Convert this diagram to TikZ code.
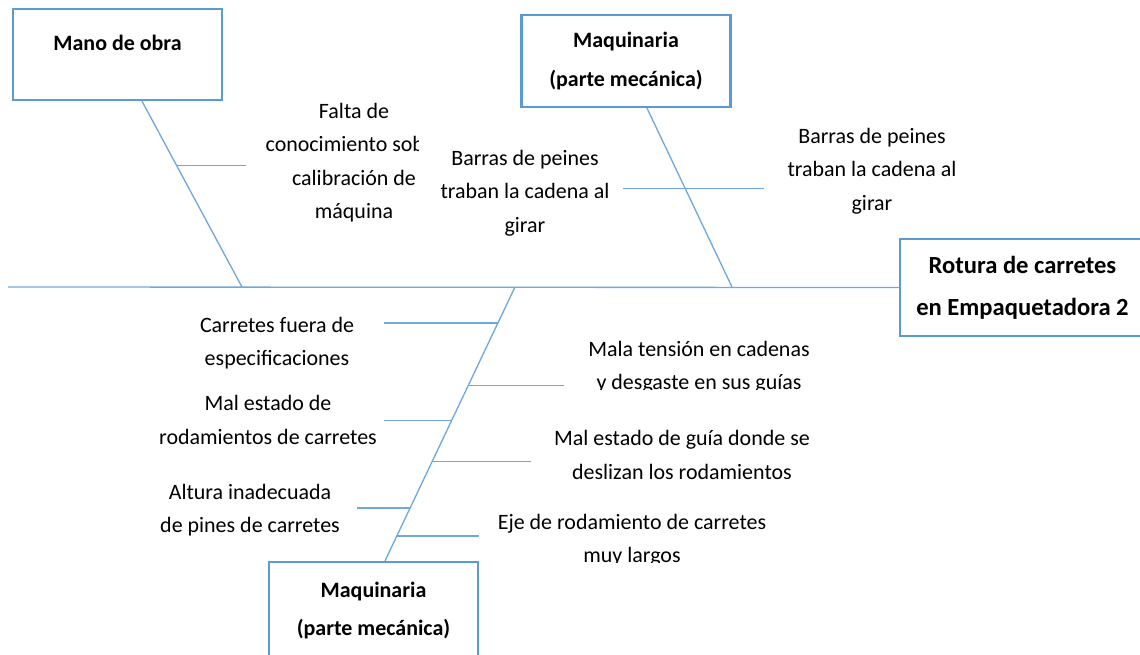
\documentclass[tikz,border=0pt]{standalone}
\usepackage{fontspec}
\setmainfont{Carlito}
\definecolor{azul}{HTML}{5B9BD5}
\definecolor{celeste}{HTML}{6FA8DC}

\begin{document}
\begin{tikzpicture}[x=0.02cm, y=-0.02cm, font=\fontsize{12.5}{19}\selectfont,
  caja/.style={draw=azul, line width=1.3pt, fill=white, align=center, minimum width=4.18cm,
    font=\fontsize{12.5}{22}\selectfont\bfseries},
  hueso/.style={draw=celeste, line width=0.75pt},
  causa/.style={align=center, inner sep=0pt}]
  \clip (0,0) rectangle (1140,654);
  % categorias y efecto
  \node[caja, minimum height=1.82cm, text height=9pt, text depth=14pt] (mano) at (117.5,54.5) {Mano de obra};
  \node[caja, minimum height=1.84cm] (maq1) at (626,61) {Maquinaria\\(parte mecánica)};
  \node[caja, minimum height=1.94cm] (maq2) at (373.5,610.5) {Maquinaria\\(parte mecánica)};
  \node[caja, minimum width=4.9cm, minimum height=1.94cm, font=\fontsize{14}{23.8}\selectfont\bfseries] (efecto) at (1022.5,287.5) {Rotura de carretes\\en Empaquetadora 2};

  % espina
  \coordinate (cola) at (8,287);
  \coordinate (c1) at (242,287);
  \coordinate (c2) at (732,287);
  \coordinate (c3) at (515,287);
  \draw[hueso] (cola) -- (efecto.west);
  \draw[hueso] ([xshift=0.49cm]mano.south) -- (c1) coordinate[pos=0.348] (m1);
  \draw[hueso] ([xshift=0.42cm]maq1.south) -- (c2) coordinate[pos=0.45] (p1);
  \draw[hueso] ([xshift=0.23cm]maq2.north) -- (c3)
    coordinate[pos=0.869] (q1) coordinate[pos=0.513] (q2) coordinate[pos=0.193] (q3)
    coordinate[pos=0.64] (q4) coordinate[pos=0.364] (q5) coordinate[pos=0.091] (q6);

  % ramas
  \coordinate (f1) at (246,165);
  \coordinate (f2) at (623,188);
  \coordinate (f3) at (764,188);
  \coordinate (i1) at (384,323);
  \coordinate (i2) at (384,421);
  \coordinate (i3) at (357,509);
  \coordinate (d1) at (564,386);
  \coordinate (d2) at (531,462);
  \coordinate (d3) at (479,537);
  \draw[hueso] (m1) -- (m1 -| f1);
  \draw[hueso] (p1 -| f2) -- (p1 -| f3);
  \foreach \a/\b in {q1/i1, q2/i2, q3/i3, q4/d1, q5/d2, q6/d3}
    \draw[hueso] (\a) -- (\a -| \b);

  % causas
  \begin{scope}
    \clip (240,90) rectangle (418,240);
    \node[causa] (falta) at (354,162.5) {Falta de\\conocimiento sobre\\calibración de\\máquina};
  \end{scope}
  \node[causa] (barras1) at (525,193) {Barras de peines\\traban la cadena al\\girar};
  \node[causa] (barras2) at (872,171) {Barras de peines\\traban la cadena al\\girar};
  \node[causa] (fuera) at (277,343) {Carretes fuera de\\especificaciones};
  \node[causa] (rodam) at (268,420) {Mal estado de\\rodamientos de carretes};
  \node[causa] (altura) at (250,510) {Altura inadecuada\\de pines de carretes};
  \begin{scope}
    \clip (560,330) rectangle (840,389);
    \node[causa] (tension) at (699,367) {Mala tensión en cadenas\\y desgaste en sus guías};
  \end{scope}
  \node[causa] (guia) at (682,455) {Mal estado de guía donde se\\deslizan los rodamientos};
  \begin{scope}
    \clip (480,500) rectangle (800,562);
    \node[causa] (eje) at (632,540) {Eje de rodamiento de carretes\\muy largos};
  \end{scope}
\end{tikzpicture}
\end{document}
